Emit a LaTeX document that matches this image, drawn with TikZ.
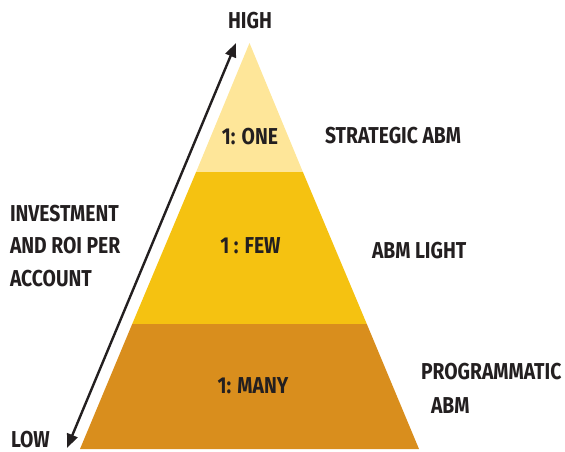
\documentclass[tikz,border=0pt]{standalone}
\usepackage{fontspec}
\newfontfamily\lblfont{Fira Sans}[FakeStretch=0.84]
\usetikzlibrary{arrows.meta}
\definecolor{txt}{HTML}{231F20}
\definecolor{layertop}{HTML}{FEE699}
\definecolor{layermid}{HTML}{F5C211}
\definecolor{layerbot}{HTML}{D98E1D}
\tikzset{
  lbl/.style={font=\lblfont\bfseries\fontsize{23}{23}\selectfont, text=txt, inner sep=0pt, outer sep=0pt},
  axisarrow/.style={draw=txt, line width=2.4pt, {Triangle[length=14pt,width=11pt]}-{Triangle[length=14pt,width=11pt]}}
}
\begin{document}
\begin{tikzpicture}[x=1pt,y=-1pt]
\useasboundingbox (0,0) rectangle (565,452);
% pyramid layers
\fill[layertop] (249.5,43) -- (302.9,172) -- (196.1,172) -- cycle;
\fill[layermid] (196.1,172) -- (302.9,172) -- (366.8,324) -- (132.2,324) -- cycle;
\fill[layerbot] (132.2,324) -- (366.8,324) -- (419,449) -- (80,449) -- cycle;
% axis arrow
\coordinate (lowEnd) at (67,448);
\coordinate (highEnd) at (236,43);
\draw[axisarrow] (lowEnd) -- (highEnd);
% labels
\node[lbl, anchor=base] (high) at (250,29) {HIGH};
\node[lbl, anchor=base west] (low) at (11,447) {LOW};
\node[lbl, anchor=base west] (inv1) at (10,221) {INVESTMENT};
\node[lbl, anchor=base west] (inv2) at (10,253) {AND ROI PER};
\node[lbl, anchor=base west] (inv3) at (10,286) {ACCOUNT};
\node[lbl, anchor=base] (one) at (250,144) {1: ONE};
\node[lbl, anchor=base] (few) at (250.5,253) {1 : FEW};
\node[lbl, anchor=base] (many) at (253,393) {1: MANY};
\node[lbl, anchor=base west] (strat) at (325,143) {STRATEGIC ABM};
\node[lbl, anchor=base west] (light) at (372,258) {ABM LIGHT};
\node[lbl, anchor=base west] (prog1) at (421,379) {PROGRAMMATIC};
\node[lbl, anchor=base west] (prog2) at (431,413) {ABM};
\end{tikzpicture}
\end{document}
